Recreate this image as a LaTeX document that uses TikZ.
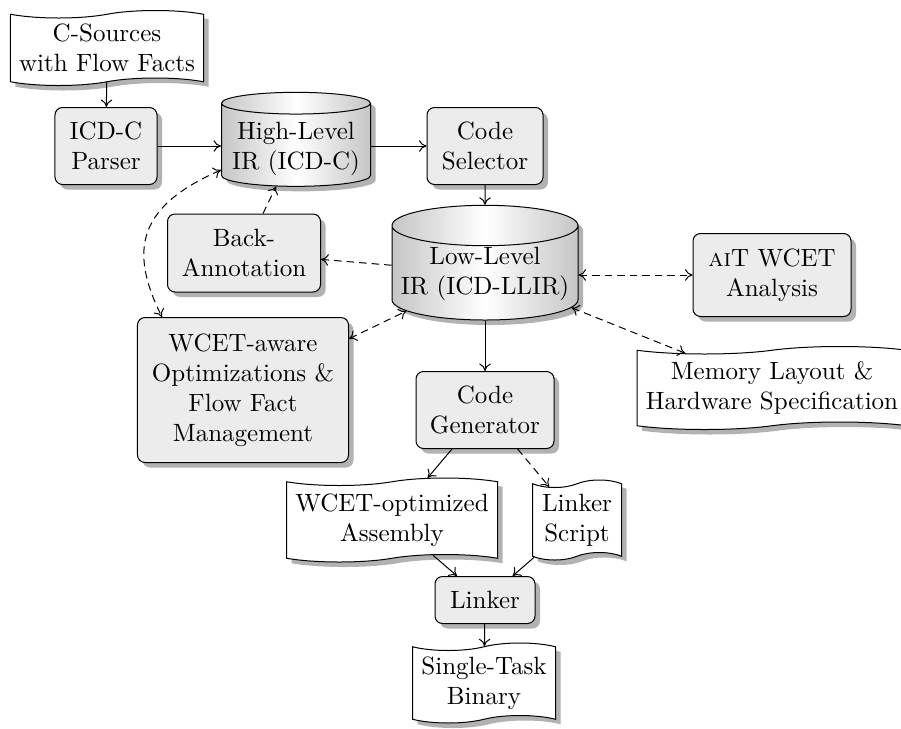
\documentclass[tikz,border=0pt]{standalone}
\usetikzlibrary{shapes.geometric,shapes.symbols,shadows,arrows.meta}
\begin{document}
\begin{tikzpicture}[x=0.4pt,y=-0.4pt,
  >={To[length=3pt,width=4.6pt]},
  shad/.style={drop shadow={shadow xshift=2pt,shadow yshift=-2pt,fill=black!30,opacity=1}},
  box/.style={draw, fill=gray!15, rounded corners=3pt, align=center, inner sep=0pt, shad},
  doc/.style={tape, draw, fill=white, align=center, inner sep=0pt, tape bend height=3pt, shad},
  db/.style={cylinder, shape border rotate=90, draw, left color=gray!45, right color=gray!45, middle color=white, align=center, inner sep=0pt, shad},
  lbl/.style={align=center, inner sep=0pt},
  arr/.style={->},
  dsh/.style={dash pattern=on 3pt off 2pt}]
\useasboundingbox (0,0) rectangle (901,728);
\node[doc, minimum width=77.2pt, minimum height=30pt] (src) at (107,48) {C-Sources\\with Flow Facts};
\node[box, minimum width=40.8pt, minimum height=30.8pt] (parser) at (106,146) {ICD-C\\Parser};
\node[db, aspect=0.17, minimum width=59.6pt, minimum height=37.6pt] (hl) at (296,145) {\phantom{High-Level}\\\phantom{IR (ICD-C)}};
\node[lbl] (hlt) at (296,149) {High-Level\\IR (ICD-C)};
\node[box, minimum width=46.4pt, minimum height=30.8pt] (sel) at (485,146) {Code\\Selector};
\node[box, minimum width=61.2pt, minimum height=31.2pt] (ba) at (244,253) {Back-\\Annotation};
\node[db, aspect=0.24, minimum width=74.4pt, minimum height=34pt] (ll) at (485,273) {\phantom{Low-Level}\\\phantom{IR (ICD-LLIR)}};
\node[lbl] (llt) at (485,274) {Low-Level\\IR (ICD-LLIR)};
\node[box, minimum width=63.2pt, minimum height=33.2pt] (ait) at (772,275) {\textsc{ai}T WCET\\Analysis};
\node[box, minimum width=84.4pt, minimum height=58pt] (wa) at (243,390) {WCET-aware\\Optimizations \&\\Flow Fact\\Management};
\node[doc, minimum width=108pt, minimum height=33.2pt] (mem) at (772,388) {Memory Layout \&\\Hardware Specification};
\node[box, minimum width=55.2pt, minimum height=30.8pt] (cg) at (485,410) {Code\\Generator};
\node[doc, minimum width=84.4pt, minimum height=33.6pt] (wo) at (392,520) {WCET-optimized\\Assembly};
\node[doc, minimum width=35.6pt, minimum height=32pt] (ls) at (577,520) {Linker\\Script};
\node[box, minimum width=40pt, minimum height=18.8pt] (lk) at (485,600) {Linker};
\node[doc, minimum width=57.2pt, minimum height=32pt] (sb) at (484,683) {Single-Task\\Binary};

\draw[arr] (src) -- (parser);
\draw[arr] (parser.east |- sel.west) -- (parser.east |- sel.west -| hl.west);
\draw[arr] (sel.west -| hl.east) -- (sel.west);
\draw[arr] (sel) -- (ll);
\draw[arr] (ll) -- (cg);
\draw[arr] (cg) -- (wo);
\draw[arr,dsh] (cg) -- (ls);
\draw[arr] (wo) -- (lk);
\draw[arr] (ls) -- (lk);
\draw[arr] (lk) -- (sb);
\draw[arr,dsh] (ba) -- (hl);
\draw[arr,dsh] (ll) -- (ba);
\draw[<->,dsh] (wa) -- (ll);
\draw[<->,dsh] (ll) -- (mem);
\draw[<->,dsh] (ll.east |- ait.west) -- (ait.west);
\draw[<->,dsh] ([yshift=-10pt]hl.west) .. controls +(-80,35) and +(-35,-70) .. ([xshift=10pt]wa.north west);
\end{tikzpicture}
\end{document}
